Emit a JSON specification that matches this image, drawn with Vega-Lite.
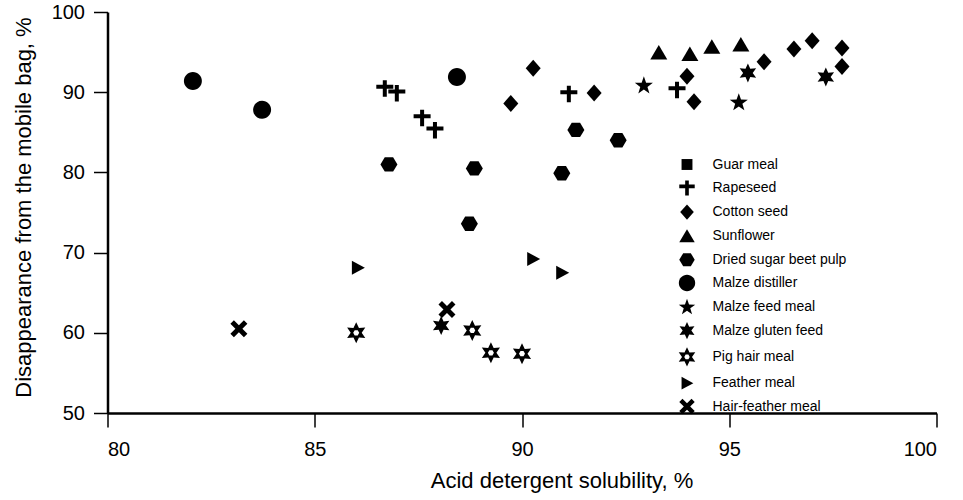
{
  "$schema": "https://vega.github.io/schema/vega-lite/v6.json",
  "width": 829,
  "height": 401,
  "autosize": {"type": "none"},
  "padding": {"left": 107.5, "top": 12, "right": 26.5, "bottom": 87},
  "background": "white",
  "data": {
    "values": [
      {"x": 82.06, "y": 91.4, "feed": "Malze distiller"},
      {"x": 83.73, "y": 87.8, "feed": "Malze distiller"},
      {"x": 88.43, "y": 91.9, "feed": "Malze distiller"},
      {"x": 86.79, "y": 81.0, "feed": "Dried sugar beet pulp"},
      {"x": 88.85, "y": 80.5, "feed": "Dried sugar beet pulp"},
      {"x": 88.73, "y": 73.6, "feed": "Dried sugar beet pulp"},
      {"x": 91.30, "y": 85.3, "feed": "Dried sugar beet pulp"},
      {"x": 92.32, "y": 84.0, "feed": "Dried sugar beet pulp"},
      {"x": 90.96, "y": 79.9, "feed": "Dried sugar beet pulp"},
      {"x": 86.69, "y": 90.5, "feed": "Rapeseed"},
      {"x": 86.98, "y": 89.9, "feed": "Rapeseed"},
      {"x": 87.59, "y": 86.8, "feed": "Rapeseed"},
      {"x": 87.90, "y": 85.3, "feed": "Rapeseed"},
      {"x": 91.13, "y": 89.8, "feed": "Rapeseed"},
      {"x": 93.74, "y": 90.3, "feed": "Rapeseed"},
      {"x": 90.27, "y": 93.0, "feed": "Cotton seed"},
      {"x": 89.73, "y": 88.6, "feed": "Cotton seed"},
      {"x": 91.74, "y": 89.9, "feed": "Cotton seed"},
      {"x": 93.98, "y": 92.0, "feed": "Cotton seed"},
      {"x": 94.15, "y": 88.8, "feed": "Cotton seed"},
      {"x": 95.84, "y": 93.8, "feed": "Cotton seed"},
      {"x": 96.56, "y": 95.4, "feed": "Cotton seed"},
      {"x": 97.00, "y": 96.4, "feed": "Cotton seed"},
      {"x": 97.72, "y": 95.5, "feed": "Cotton seed"},
      {"x": 97.72, "y": 93.2, "feed": "Cotton seed"},
      {"x": 93.30, "y": 94.9, "feed": "Sunflower"},
      {"x": 94.05, "y": 94.7, "feed": "Sunflower"},
      {"x": 94.58, "y": 95.6, "feed": "Sunflower"},
      {"x": 95.28, "y": 95.9, "feed": "Sunflower"},
      {"x": 92.94, "y": 90.8, "feed": "Malze feed meal"},
      {"x": 95.23, "y": 88.7, "feed": "Malze feed meal"},
      {"x": 95.45, "y": 92.4, "feed": "Malze gluten feed"},
      {"x": 97.33, "y": 91.9, "feed": "Malze gluten feed"},
      {"x": 88.05, "y": 60.9, "feed": "Malze gluten feed"},
      {"x": 86.00, "y": 60.0, "feed": "Pig hair meal"},
      {"x": 88.80, "y": 60.3, "feed": "Pig hair meal"},
      {"x": 89.25, "y": 57.5, "feed": "Pig hair meal"},
      {"x": 90.00, "y": 57.4, "feed": "Pig hair meal"},
      {"x": 86.04, "y": 68.1, "feed": "Feather meal"},
      {"x": 90.27, "y": 69.2, "feed": "Feather meal"},
      {"x": 90.97, "y": 67.5, "feed": "Feather meal"},
      {"x": 83.17, "y": 60.5, "feed": "Hair-feather meal"},
      {"x": 88.19, "y": 62.9, "feed": "Hair-feather meal"}
    ]
  },
  "mark": {"type": "point", "filled": true, "opacity": 1, "strokeWidth": 0},
  "encoding": {
    "x": {
      "field": "x",
      "type": "quantitative",
      "scale": {"domain": [80, 100], "nice": false, "zero": false},
      "axis": {
        "values": [80, 85, 90, 95, 100],
        "title": "Acid detergent solubility, %",
        "titleX": 454,
        "titleY": 74,
        "titleAlign": "center",
        "titleBaseline": "alphabetic",
        "labelPadding": 12
      }
    },
    "y": {
      "field": "y",
      "type": "quantitative",
      "scale": {"domain": [50, 100], "nice": false, "zero": false},
      "axis": {
        "values": [50, 60, 70, 80, 90, 100],
        "title": "Disappearance from the mobile bag, %",
        "titleAngle": -90,
        "titleX": -77.5,
        "titleY": 195,
        "titleAlign": "center",
        "titleBaseline": "alphabetic",
        "labelPadding": 9
      }
    },
    "shape": {
      "field": "feed",
      "type": "nominal",
      "scale": {
        "domain": ["Guar meal", "Rapeseed", "Cotton seed", "Sunflower", "Dried sugar beet pulp", "Malze distiller", "Malze feed meal", "Malze gluten feed", "Pig hair meal", "Feather meal", "Hair-feather meal"],
        "range": [
          "M-0.6,-0.6L0.6,-0.6L0.6,0.6L-0.6,0.6Z",
          "M-0.2,-0.8L0.2,-0.8L0.2,-0.35L0.85,-0.35L0.85,0.05L0.2,0.05L0.2,0.85L-0.2,0.85L-0.2,0.05L-0.85,0.05L-0.85,-0.35L-0.2,-0.35Z",
          "M0,-0.85L0.75,0L0,0.85L-0.75,0Z",
          "M0,-0.8L0.85,0.65L-0.85,0.65Z",
          "M0.85,0L0.42,0.72L-0.42,0.72L-0.85,0L-0.42,-0.72L0.42,-0.72Z",
          "M0.9,0A0.9,0.9,0,1,1,-0.9,0A0.9,0.9,0,1,1,0.9,0Z",
          "M0,-0.95L0.223,-0.307L0.904,-0.294L0.361,0.117L0.558,0.769L0,0.38L-0.558,0.769L-0.361,0.117L-0.904,-0.294L-0.223,-0.307Z",
          "M0,-0.95L0.24,-0.416L0.823,-0.475L0.48,0L0.823,0.475L0.24,0.416L0,0.95L-0.24,0.416L-0.823,0.475L-0.48,0L-0.823,-0.475L-0.24,-0.416Z",
          "M0,-1.05L0.275,-0.476L0.909,-0.525L0.55,0L0.909,0.525L0.275,0.476L0,1.05L-0.275,0.476L-0.909,0.525L-0.55,0L-0.909,-0.525L-0.275,-0.476ZM0.3,0L0.15,-0.26L-0.15,-0.26L-0.3,0L-0.15,0.26L0.15,0.26Z",
          "M-0.6,-0.7L0.7,0L-0.6,0.7Z",
          "M-0.85,-0.5L-0.5,-0.85L0,-0.35L0.5,-0.85L0.85,-0.5L0.35,0L0.85,0.5L0.5,0.85L0,0.35L-0.5,0.85L-0.85,0.5L-0.35,0Z"
        ]
      },
      "legend": {
        "title": null,
        "orient": "none",
        "legendX": 570,
        "legendY": 143,
        "padding": 0,
        "symbolSize": 330,
        "symbolFillColor": "black",
        "symbolStrokeWidth": 0,
        "symbolOpacity": 1,
        "labelFontSize": 14,
        "labelColor": "black",
        "labelOffset": 16,
        "rowPadding": 6.3
      }
    },
    "color": {"value": "black"},
    "size": {"value": 400}
  },
  "config": {
    "font": "Liberation Sans",
    "view": {"stroke": null},
    "axis": {
      "grid": false,
      "domainColor": "black",
      "domainWidth": 2.5,
      "tickColor": "black",
      "tickWidth": 1.5,
      "tickSize": 14,
      "labelFontSize": 20,
      "labelColor": "black",
      "titleFontSize": 22,
      "titleFontWeight": "normal",
      "titleColor": "black"
    }
  }
}
